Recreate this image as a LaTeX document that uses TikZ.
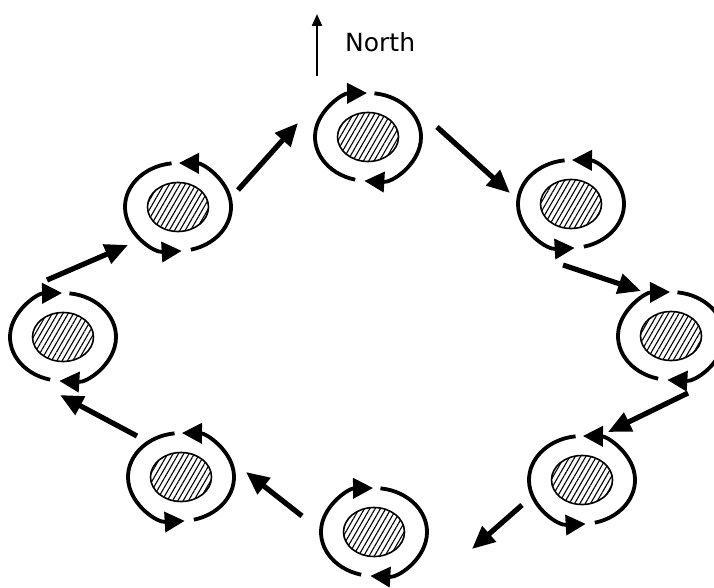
\documentclass[tikz,border=0pt]{standalone}
\usepackage{fontspec}
\setmainfont{DejaVu Sans}
\usetikzlibrary{arrows.meta,shapes.geometric,patterns.meta}
\tikzset{
  moon/.style={ellipse, draw, line width=1.6pt, minimum width=61pt, minimum height=49pt, inner sep=0pt,
    pattern={Lines[angle=60,distance=4.6pt,line width=1.1pt]}},
  ring/.style={line width=3.8pt, -{Triangle[length=20pt 0 0,width=20pt 0 0]}},
  conn/.style={line width=5.2pt, -{Triangle[length=23pt 0 0,width=20pt 0 0]}},
  northarrow/.style={line width=2.2pt, -{Triangle[length=12pt 0 0,width=10pt 0 0]}},
  lbl/.style={font=\fontsize{25}{29}\selectfont, inner sep=0pt},
}
\newcommand\ringcw[1]{%
  \draw[ring] (#1) ++(256:53pt and 44pt) arc[start angle=256, end angle=91, x radius=53pt, y radius=44pt];
  \draw[ring] (#1) ++(83:53pt and 44pt) arc[start angle=83, end angle=-94, x radius=53pt, y radius=44pt];}
\newcommand\ringccw[1]{%
  \draw[ring] (#1) ++(-76:53pt and 44pt) arc[start angle=-76, end angle=89, x radius=53pt, y radius=44pt];
  \draw[ring] (#1) ++(97:53pt and 44pt) arc[start angle=97, end angle=274, x radius=53pt, y radius=44pt];}
\begin{document}
\begin{tikzpicture}[x=1pt,y=1pt]
\useasboundingbox (0,0) rectangle (714,-588);
% stations
\node[moon] (T)  at (368,-137) {};
\node[moon] (UL) at (178,-207) {};
\node[moon] (L)  at (63,-337) {};
\node[moon] (UR) at (571,-204) {};
\node[moon] (R)  at (671,-336) {};
\node[moon] (B)  at (374,-532) {};
\node[moon] (LL) at (181,-477) {};
\node[moon] (LR) at (582,-480) {};
% rings
\ringcw{T}\ringcw{L}\ringcw{R}\ringcw{B}
\ringccw{UL}\ringccw{UR}\ringccw{LL}\ringccw{LR}
% connector ends
\coordinate (a1) at (47,-280);  \coordinate (b1) at (128,-245);
\coordinate (a2) at (238,-190); \coordinate (b2) at (298,-123);
\coordinate (a3) at (437,-127); \coordinate (b3) at (510,-193);
\coordinate (a4) at (563,-265); \coordinate (b4) at (641,-291);
\coordinate (a5) at (688,-393); \coordinate (b5) at (608,-432);
\coordinate (a6) at (522,-505); \coordinate (b6) at (472,-549);
\coordinate (a7) at (302,-516); \coordinate (b7) at (246,-472);
\coordinate (a8) at (137,-436); \coordinate (b8) at (60,-395);
\foreach \i in {1,...,8} {\draw[conn] (a\i) -- (b\i);}
% north
\coordinate (ns) at (317,-76);
\coordinate (ne) at (317,-14);
\draw[northarrow] (ns) -- (ne);
\node[lbl, anchor=west] (north) at (345,-42) {North};
\end{tikzpicture}
\end{document}
